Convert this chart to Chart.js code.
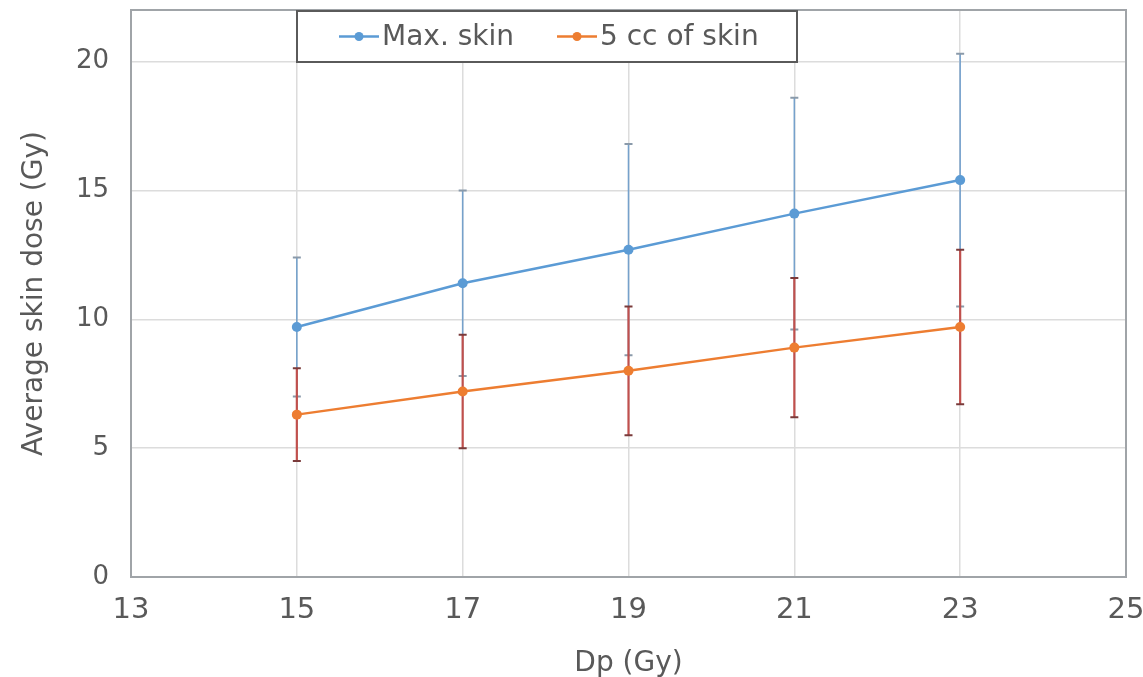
<!DOCTYPE html>
<html>
<head>
<meta charset="utf-8">
<script src="https://cdn.jsdelivr.net/npm/chart.js@4.4.1/dist/chart.umd.min.js"></script>
<style>
  html, body { margin: 0; padding: 0; background: #fff; }
  #wrap { width: 1143px; height: 677px; }
</style>
</head>
<body>
<div id="wrap"><canvas id="myChart" width="1143" height="677"></canvas></div>
<script>
// values
const dpValues = [15, 17, 19, 21, 23];
const maxSkin = [9.7, 11.4, 12.7, 14.1, 15.4];
const maxSkinErr = [2.7, 3.6, 4.1, 4.5, 4.9];
const ccSkin = [6.3, 7.2, 8.0, 8.9, 9.7];
const ccSkinErr = [1.8, 2.2, 2.5, 2.7, 3.0];
const seriesNames = ['Max. skin', '5 cc of skin'];

const ctx = document.getElementById('myChart');
const FONT = "'DejaVu Sans', sans-serif";
const TEXT = '#595959';

// error bars, drawn under the lines and markers
const errorBars = {
  id: 'errorBars',
  beforeDatasetsDraw(chart) {
    const c = chart.ctx;
    const xs = chart.scales.x, ys = chart.scales.y;
    const sets = [
      {vals: maxSkin, err: maxSkinErr, bar: 'rgba(100,150,200,0.85)', cap: '#8a9aaa', w: 1.6},
      {vals: ccSkin, err: ccSkinErr, bar: '#c0504d', cap: '#7a3a3a', w: 2.2}
    ];
    c.save();
    sets.forEach(function(s) {
      dpValues.forEach(function(d, i) {
        const x = xs.getPixelForValue(d);
        const yTop = ys.getPixelForValue(s.vals[i] + s.err[i]);
        const yBot = ys.getPixelForValue(s.vals[i] - s.err[i]);
        c.strokeStyle = s.bar;
        c.lineWidth = s.w;
        c.beginPath();
        c.moveTo(x, yTop); c.lineTo(x, yBot);
        c.stroke();
        c.strokeStyle = s.cap;
        c.lineWidth = 2;
        c.beginPath();
        c.moveTo(x - 4, yTop); c.lineTo(x + 4, yTop);
        c.moveTo(x - 4, yBot); c.lineTo(x + 4, yBot);
        c.stroke();
      });
    });
    c.restore();
  }
};

// plot frame and the boxed legend at the top
const frameAndLegend = {
  id: 'frameAndLegend',
  afterDraw(chart) {
    const c = chart.ctx;
    const a = chart.chartArea;
    c.save();
    c.strokeStyle = '#a0a4a8';
    c.lineWidth = 2;
    c.strokeRect(a.left, a.top, a.right - a.left, a.bottom - a.top);

    // legend box
    const bx = 297, by = 11, bw = 500, bh = 51;
    c.fillStyle = '#fff';
    c.fillRect(bx, by, bw, bh);
    c.strokeStyle = '#5a5a5a';
    c.lineWidth = 2;
    c.strokeRect(bx, by, bw, bh);

    const items = [
      {x: 339, color: '#5b9bd5', label: seriesNames[0]},
      {x: 557, color: '#ed7d31', label: seriesNames[1]}
    ];
    const cy = by + bh / 2;
    c.font = '28px ' + FONT;
    c.textBaseline = 'middle';
    items.forEach(function(it) {
      c.strokeStyle = it.color;
      c.lineWidth = 2.5;
      c.beginPath();
      c.moveTo(it.x, cy); c.lineTo(it.x + 40, cy);
      c.stroke();
      c.fillStyle = it.color;
      c.beginPath();
      c.arc(it.x + 20, cy, 4.5, 0, Math.PI * 2);
      c.fill();
      c.fillStyle = TEXT;
      c.fillText(it.label, it.x + 43, cy + 1);
    });
    c.restore();
  }
};

new Chart(ctx, {
  type: 'line',
  data: {
    datasets: [{
      label: seriesNames[0],
      data: dpValues.map((d, i) => ({x: d, y: maxSkin[i]})),
      borderColor: '#5b9bd5',
      backgroundColor: '#5b9bd5',
      borderWidth: 2.5,
      pointRadius: 5,
      pointBorderWidth: 0
    }, {
      label: seriesNames[1],
      data: dpValues.map((d, i) => ({x: d, y: ccSkin[i]})),
      borderColor: '#ed7d31',
      backgroundColor: '#ed7d31',
      borderWidth: 2.5,
      pointRadius: 5,
      pointBorderWidth: 0
    }]
  },
  options: {
    responsive: false,
    animation: false,
    layout: { padding: { left: 0, right: 17, top: 10, bottom: 0 } },
    plugins: {
      legend: { display: false },
      tooltip: { enabled: false }
    },
    scales: {
      x: {
        type: 'linear',
        min: 13,
        max: 25,
        ticks: { stepSize: 2, color: TEXT, font: { family: FONT, size: 29 }, padding: 16 },
        grid: { color: '#dcdcdc', lineWidth: 1.5, drawTicks: false },
        border: { display: false },
        title: { display: true, text: 'Dp (Gy)', color: TEXT, font: { family: FONT, size: 28 }, padding: { top: 0, bottom: -4 } },
        afterFit(scale) { scale.height = 100; scale.paddingLeft = 0; scale.paddingRight = 0; }
      },
      y: {
        min: 0,
        max: 22,
        ticks: { stepSize: 5, color: TEXT, font: { family: FONT, size: 26 }, padding: 22 },
        afterBuildTicks(scale) { scale.ticks = scale.ticks.filter(t => t.value % 5 === 0); },
        grid: { color: '#dcdcdc', lineWidth: 1.5, drawTicks: false },
        border: { display: false },
        title: { display: true, text: 'Average skin dose (Gy)', color: TEXT, font: { family: FONT, size: 28 }, padding: { top: 18, bottom: 0 } },
        afterFit(scale) { scale.width = 131; scale.paddingTop = 0; scale.paddingBottom = 0; }
      }
    }
  },
  plugins: [errorBars, frameAndLegend]
});
</script>
</body>
</html>
